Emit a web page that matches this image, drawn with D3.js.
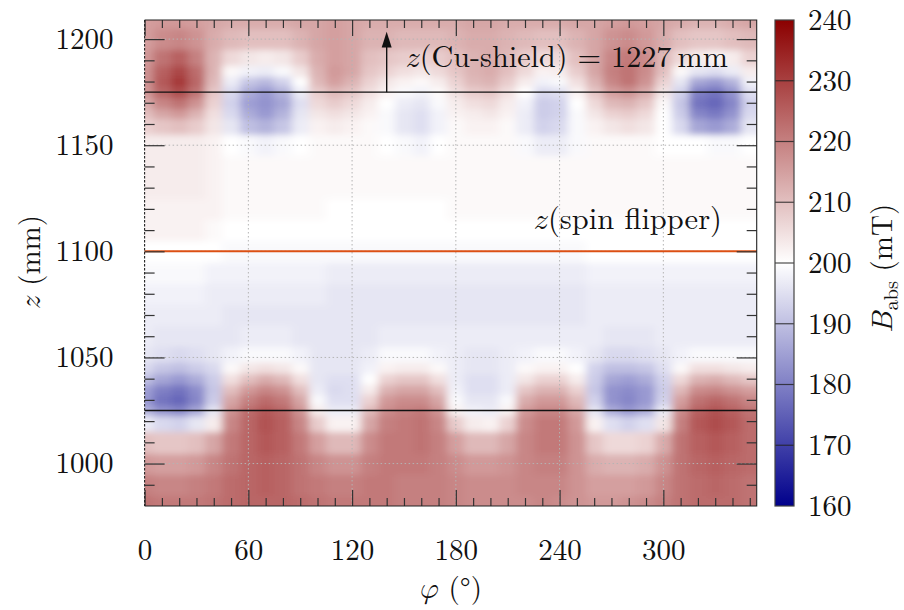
<!DOCTYPE html>
<html>
<head>
<meta charset="utf-8">
<script src="https://cdn.jsdelivr.net/npm/d3@7/dist/d3.min.js"></script>
<style>
  body { margin: 0; background: #fff; }
</style>
</head>
<body>
<svg id="chart" width="904" height="610"></svg>
<script>
// ---- data -------------------------------------------------------------
// azimuth columns (deg) and axial rows (mm) of the field map
const phiCols = [0, 10, 20, 30, 40, 50, 60, 70, 80, 90, 100, 110, 120, 130, 140, 150, 160, 170,
                 180, 190, 200, 210, 220, 230, 240, 250, 260, 270, 280, 290, 300, 310, 320, 330, 340, 350];
const zRows = [980, 990, 1000, 1010, 1020, 1025, 1030, 1035, 1040, 1045, 1050, 1060, 1070, 1080, 1090,
               1100, 1110, 1120, 1130, 1140, 1150, 1160, 1165, 1170, 1175, 1180, 1185, 1190, 1200, 1210];
// |B| in mT, one array per phi column, values along zRows
const bField = [
  [222,220,216,210,197,188,184,185,190,194,196,197, 197,198,199,200,202,202,203,203, 203,207,210,213,216,217,217,216,215,215],
  [221,219,215,209,194,183,178,180,186,191,195,196, 197,198,199,200,202,202,203,203, 203,209,214,219,224,226,225,222,218,216],
  [221,219,215,209,193,181,176,178,184,190,194,196, 197,198,199,200,202,202,203,203, 203,210,216,222,228,231,229,225,219,216],
  [221,220,216,210,196,186,181,182,187,192,195,196, 197,198,199,200,202,202,203,203, 203,208,212,217,222,224,223,220,217,215],
  [222,221,219,214,203,196,192,191,192,194,196,196, 197,197,198,200,201,202,202,202, 202,204,205,207,209,211,212,212,213,214],
  [223,223,222,221,219,217,214,210,205,201,198,196, 196,197,198,199,200,201,201,201, 200,196,194,193,194,197,201,206,211,213],
  [224,224,224,224,224,223,220,216,210,204,199,197, 196,197,198,199,200,201,201,201, 199,190,187,185,187,191,198,204,210,213],
  [224,225,225,226,227,226,223,219,213,205,199,197, 196,197,198,199,200,201,201,201, 198,188,184,183,184,189,197,203,210,213],
  [224,224,224,225,225,224,221,217,211,204,199,197, 196,197,198,199,200,201,201,201, 199,191,188,186,188,193,199,204,210,213],
  [223,222,222,221,219,217,214,210,205,201,198,196, 196,197,198,199,200,201,201,201, 200,197,196,195,197,200,204,208,212,214],
  [222,221,219,215,208,203,199,197,196,196,196,196, 196,197,198,199,200,201,201,201, 201,202,204,206,208,211,212,213,214,214],
  [221,220,217,211,202,197,195,194,195,196,196,196, 196,196,197,199,200,200,201,201, 201,203,205,208,211,215,216,215,215,215],
  [221,220,217,211,202,197,195,195,195,196,196,196, 196,196,197,199,200,200,201,201, 201,202,204,206,209,212,214,214,214,214],
  [221,221,220,218,214,211,207,203,200,198,197,196, 196,196,197,199,200,200,201,201, 201,201,202,203,205,207,209,210,212,213],
  [221,221,221,221,220,218,216,212,207,202,199,197, 196,196,197,199,200,200,201,201, 200,199,199,200,202,204,207,209,212,213],
  [220,220,221,221,221,220,218,214,209,203,199,197, 196,196,197,199,200,200,201,201, 199,196,196,197,199,202,205,208,211,213],
  [220,220,221,222,222,221,218,214,209,203,199,197, 196,196,197,199,200,200,201,201, 198,195,195,196,198,201,204,207,211,213],
  [220,220,220,220,219,217,214,210,205,201,198,197, 196,196,197,199,200,200,201,201, 200,198,198,199,201,203,206,208,211,213],
  [219,219,218,215,208,202,199,198,197,197,197,197, 196,196,197,199,200,201,201,201, 201,201,202,203,205,207,209,210,212,213],
  [218,218,216,211,203,198,196,195,195,196,196,197, 196,196,197,199,200,201,201,201, 201,202,203,205,208,211,212,212,213,214],
  [218,218,216,211,202,197,196,195,195,196,196,197, 196,196,197,199,200,201,201,201, 201,202,204,206,209,212,213,213,213,214],
  [218,218,217,214,207,202,199,197,197,197,197,197, 196,196,197,199,200,201,201,201, 201,201,202,203,205,208,210,211,212,213],
  [218,219,219,219,218,216,213,209,204,201,198,197, 196,196,197,199,200,201,201,201, 199,197,197,198,200,203,206,208,211,213],
  [219,219,220,221,221,219,216,212,207,202,199,197, 196,196,197,199,200,201,201,201, 197,193,192,192,194,198,202,206,210,213],
  [218,219,220,221,221,219,216,212,207,202,199,197, 196,196,197,199,200,201,201,201, 197,194,193,193,195,199,203,206,210,213],
  [217,217,217,217,216,214,211,207,203,200,198,197, 196,196,197,199,200,201,201,201, 199,199,199,200,202,205,208,210,212,214],
  [216,215,213,209,202,196,193,191,192,193,196,197, 197,197,198,200,200,201,201,201, 201,202,204,206,209,212,214,214,214,214],
  [216,215,212,206,195,187,183,183,186,190,194,196, 197,197,198,200,200,201,201,201, 201,204,207,211,215,219,220,219,217,215],
  [217,215,212,206,193,184,181,182,185,190,194,196, 197,197,198,200,200,201,201,201, 201,205,208,212,217,222,222,221,218,216],
  [218,216,213,207,195,187,184,184,187,191,195,196, 197,197,198,200,200,201,201,201, 201,204,206,209,213,217,218,218,216,215],
  [220,219,217,213,204,197,193,192,193,195,196,197, 197,197,198,200,200,201,201,201, 200,200,200,201,204,207,210,211,213,214],
  [222,222,222,222,220,218,215,211,206,201,198,197, 197,197,198,200,200,201,201,201, 200,194,192,191,193,196,201,206,210,213],
  [223,223,224,225,226,225,222,218,212,205,199,197, 197,197,198,200,200,201,201,201, 200,186,181,178,180,186,196,203,209,212],
  [223,224,225,226,228,227,224,219,213,205,199,197, 197,197,198,200,200,201,201,201, 199,184,179,176,178,184,195,202,209,212],
  [223,223,224,225,226,225,222,217,211,204,199,197, 197,197,198,200,200,201,201,201, 199,187,183,181,183,188,197,203,210,213],
  [222,222,223,223,223,222,219,215,209,203,199,197, 197,197,198,200,200,201,201,201, 200,196,194,193,195,198,203,207,211,214]
];
// axis ticks and reference heights
const phiMajor = [0, 60, 120, 180, 240, 300];
const phiMinor = [10, 20, 30, 40, 50, 70, 80, 90, 100, 110, 130, 140, 150, 160, 170, 190, 200, 210, 220, 230, 250, 260, 270, 280, 290, 310, 320, 330, 340, 350];
const zMajor = [1000, 1050, 1100, 1150, 1200];
const zMinor = [990, 1010, 1020, 1030, 1040, 1060, 1070, 1080, 1090, 1110, 1120, 1130, 1140, 1160, 1170, 1180, 1190];
const barTicks = [160, 170, 180, 190, 200, 210, 220, 230, 240];
const shieldEdges = [1025, 1175];   // copper shield ends (black lines)
const flipperZ = 1100;              // spin flipper position
const arrowPhi = 140;               // annotation arrow
const phiDomain = [0, 354];
const zDomain = [980, 1209];
const bDomain = [160, 240];

// ---- layout -----------------------------------------------------------
const FONT = '"Latin Modern Roman", "Liberation Serif", serif';
const MATH = '"Latin Modern Math", "Latin Modern Roman", serif';
const FS = "29px";
const plot = { left: 144.6, right: 756.7, top: 20, bottom: 506 };
const bar = { left: 775, right: 794 };
const svg = d3.select("#chart");

const x = d3.scaleLinear().domain(phiDomain).range([plot.left, plot.right]);
const y = d3.scaleLinear().domain(zDomain).range([plot.bottom, plot.top]);
const color = d3.scaleLinear().domain([160, 200, 240])
  .range(["rgb(0,0,139)", "rgb(255,255,255)", "rgb(139,0,0)"]);
const yBar = d3.scaleLinear().domain(bDomain).range([plot.bottom, plot.top]);

const serif = (t, size = FS) => t.style("font-family", FONT).style("font-size", size).style("fill", "#111");
const mathSym = (parent, ch) => parent.append("tspan").style("font-family", MATH).text(ch);

// ---- heat map ---------------------------------------------------------
const defs = svg.append("defs");
defs.append("clipPath").attr("id", "plotClip")
  .append("rect").attr("x", plot.left).attr("y", plot.top)
  .attr("width", plot.right - plot.left).attr("height", plot.bottom - plot.top);
const f = defs.append("filter").attr("id", "smooth")
  .attr("filterUnits", "userSpaceOnUse")
  .attr("x", 80).attr("y", -40).attr("width", 760).attr("height", 620);
f.append("feGaussianBlur").attr("stdDeviation", "4.2 3.2");

const cells = [];
phiCols.forEach((phi, i) => {
  const p0 = i === 0 ? phiDomain[0] : (phiCols[i - 1] + phi) / 2;
  const p1 = i === phiCols.length - 1 ? phiDomain[1] : (phi + phiCols[i + 1]) / 2;
  zRows.forEach((z, j) => {
    const z0 = j === 0 ? zDomain[0] : (zRows[j - 1] + z) / 2;
    const z1 = j === zRows.length - 1 ? zDomain[1] : (z + zRows[j + 1]) / 2;
    cells.push({ p0, p1, z0, z1, v: bField[i][j], first: i === 0, last: i === phiCols.length - 1,
                 bottom: j === 0, top: j === zRows.length - 1 });
  });
});

const pad = 30; // edge cells extend past the frame so smoothing keeps full colour there
svg.append("g").attr("clip-path", "url(#plotClip)")
  .append("g").attr("filter", "url(#smooth)")
  .selectAll("rect").data(cells).join("rect")
  .attr("x", d => x(d.p0) - (d.first ? pad : 0))
  .attr("y", d => y(d.z1) - (d.top ? pad : 0))
  .attr("width", d => x(d.p1) - x(d.p0) + (d.first ? pad : 0) + (d.last ? pad : 0) + 0.6)
  .attr("height", d => y(d.z0) - y(d.z1) + (d.top ? pad : 0) + (d.bottom ? pad : 0) + 0.6)
  .attr("fill", d => color(d.v))
  .attr("shape-rendering", "crispEdges");

// ---- grid -------------------------------------------------------------
const grid = svg.append("g").attr("stroke", "#b4b4b4").attr("stroke-width", 1)
  .attr("stroke-dasharray", "1.5,2.5");
grid.selectAll("line.gx").data(phiMajor.filter(v => v > 0)).join("line")
  .attr("x1", d => x(d)).attr("x2", d => x(d)).attr("y1", plot.top).attr("y2", plot.bottom);
grid.selectAll("line.gy").data(zMajor).join("line")
  .attr("x1", plot.left).attr("x2", plot.right).attr("y1", d => y(d)).attr("y2", d => y(d));

// ---- reference lines --------------------------------------------------
svg.append("g").selectAll("line").data(shieldEdges).join("line")
  .attr("x1", plot.left).attr("x2", plot.right)
  .attr("y1", d => y(d)).attr("y2", d => y(d))
  .attr("stroke", "#111").attr("stroke-width", 1.4);
svg.append("line")
  .attr("x1", plot.left).attr("x2", plot.right)
  .attr("y1", y(flipperZ)).attr("y2", y(flipperZ))
  .attr("stroke", "#dc5014").attr("stroke-width", 2);

// arrow towards the copper shield end
const ax = x(arrowPhi);
svg.append("line").attr("x1", ax).attr("x2", ax)
  .attr("y1", y(shieldEdges[1])).attr("y2", y(1197))
  .attr("stroke", "#111").attr("stroke-width", 1.4);
svg.append("path")
  .attr("d", `M${ax},${y(1203.5)} L${ax - 5},${y(1196)} L${ax + 5},${y(1196)} Z`)
  .attr("fill", "#111");

const t1 = svg.append("text").attr("x", ax + 19).attr("y", 67).call(serif, "30.2px");
mathSym(t1, "\u{1D467}");
t1.append("tspan").text("(Cu-shield) = 1227\u2009mm");
const t2 = svg.append("text").attr("x", 722).attr("y", 229).attr("text-anchor", "end").call(serif, "30.5px");
mathSym(t2, "\u{1D467}");
t2.append("tspan").text("(spin flipper)");

// ---- axes (ticks point inward on all four sides) --------------------------
function styleAxis(g) {
  g.select(".domain").remove();
  g.selectAll(".tick line").attr("stroke", "#333").attr("stroke-width", 1.2);
  g.selectAll("text").call(serif);
}
svg.append("g").attr("transform", `translate(0,${plot.bottom})`)
  .call(d3.axisBottom(x).tickValues(phiMajor).tickSize(-16).tickPadding(33).tickFormat(d3.format("d")))
  .call(styleAxis);
svg.append("g").attr("transform", `translate(0,${plot.bottom})`)
  .call(d3.axisBottom(x).tickValues(phiMinor).tickSize(-8).tickFormat(""))
  .call(styleAxis);
svg.append("g").attr("transform", `translate(0,${plot.top})`)
  .call(d3.axisTop(x).tickValues(phiMajor).tickSize(-16).tickFormat(""))
  .call(styleAxis);
svg.append("g").attr("transform", `translate(0,${plot.top})`)
  .call(d3.axisTop(x).tickValues(phiMinor).tickSize(-8).tickFormat(""))
  .call(styleAxis);
svg.append("g").attr("transform", `translate(${plot.left},0)`)
  .call(d3.axisLeft(y).tickValues(zMajor).tickSize(-20).tickPadding(31).tickFormat(d3.format("d")))
  .call(styleAxis);
svg.append("g").attr("transform", `translate(${plot.left},0)`)
  .call(d3.axisLeft(y).tickValues(zMinor).tickSize(-10).tickFormat(""))
  .call(styleAxis);
svg.append("g").attr("transform", `translate(${plot.right},0)`)
  .call(d3.axisRight(y).tickValues(zMajor).tickSize(-20).tickFormat(""))
  .call(styleAxis);
svg.append("g").attr("transform", `translate(${plot.right},0)`)
  .call(d3.axisRight(y).tickValues(zMinor).tickSize(-10).tickFormat(""))
  .call(styleAxis);

// plot frame: solid on three sides, the phi = 0 edge dashed
const frame = svg.append("g").attr("fill", "none").attr("stroke", "#222").attr("stroke-width", 1.1);
frame.append("path").attr("d",
  `M${plot.left},${plot.top} H${plot.right} V${plot.bottom} H${plot.left}`);
frame.append("line").attr("x1", plot.left).attr("x2", plot.left)
  .attr("y1", plot.top).attr("y2", plot.bottom).attr("stroke-dasharray", "2.5,1.5");

// axis titles
const xt = svg.append("text").attr("x", 451).attr("y", 598).attr("text-anchor", "middle").call(serif);
mathSym(xt, "\u{1D711}");
xt.append("tspan").text(" (\u00b0)");
const yt = svg.append("text").attr("transform", "translate(40,262) rotate(-90)")
  .attr("text-anchor", "middle").call(serif);
mathSym(yt, "\u{1D467}");
yt.append("tspan").text(" (mm)");

// ---- colour bar -------------------------------------------------------
const grad = defs.append("linearGradient").attr("id", "barGrad")
  .attr("x1", 0).attr("x2", 0).attr("y1", 1).attr("y2", 0);
grad.selectAll("stop").data([160, 180, 200, 220, 240]).join("stop")
  .attr("offset", d => (d - bDomain[0]) / (bDomain[1] - bDomain[0]))
  .attr("stop-color", d => color(d));
svg.append("rect").attr("x", bar.left).attr("y", plot.top)
  .attr("width", bar.right - bar.left).attr("height", plot.bottom - plot.top)
  .attr("fill", "url(#barGrad)");
svg.append("g").selectAll("line").data(barTicks.slice(1, -1)).join("line")
  .attr("x1", bar.left).attr("x2", bar.right)
  .attr("y1", d => yBar(d)).attr("y2", d => yBar(d))
  .attr("stroke", "#222").attr("stroke-width", 1.2).attr("opacity", 0.8);
svg.append("rect").attr("x", bar.left).attr("y", plot.top)
  .attr("width", bar.right - bar.left).attr("height", plot.bottom - plot.top)
  .attr("fill", "none").attr("stroke", "#444").attr("stroke-width", 1.2);
svg.append("g").attr("transform", `translate(${bar.right},0)`)
  .call(d3.axisRight(yBar).tickValues(barTicks).tickSize(0).tickPadding(14).tickFormat(d3.format("d")))
  .call(styleAxis);

const bt = svg.append("text").attr("transform", "translate(892,268) rotate(-90)")
  .attr("text-anchor", "middle").call(serif);
mathSym(bt, "\u{1D435}");
bt.append("tspan").style("font-size", "20px").attr("dy", 6).text("abs");
bt.append("tspan").attr("dy", -6).text(" (mT)");
</script>
</body>
</html>
